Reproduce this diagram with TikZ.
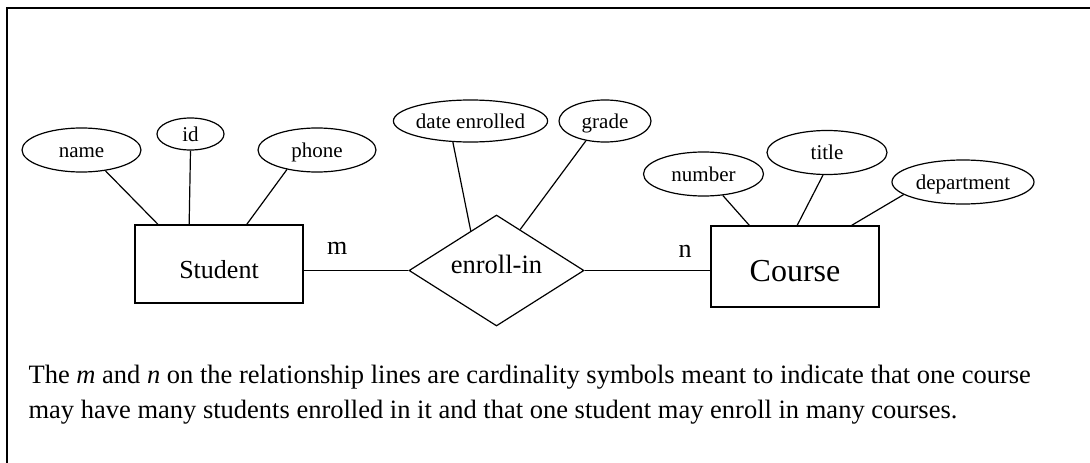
\documentclass[tikz,border=0pt]{standalone}
\usepackage{fontspec}
\setmainfont{Liberation Serif}
\usetikzlibrary{positioning,shapes.geometric}

\begin{document}
\begin{tikzpicture}[x=1pt,y=-1pt,line width=1.2pt]
\tikzstyle{attr}=[draw,ellipse,inner sep=0pt,text height=14.5pt,text depth=0pt,font=\fontsize{21}{24}\selectfont]
\tikzstyle{entity}=[draw,rectangle,inner sep=0pt,minimum width=168pt,text depth=0pt]
\tikzstyle{rel}=[draw,diamond,aspect=1.58,inner sep=0pt,minimum width=175pt,minimum height=111pt,font=\fontsize{26.5}{30}\selectfont]
\tikzstyle{card}=[inner sep=0pt,font=\fontsize{26}{30}\selectfont]
\tikzstyle{note}=[anchor=base west,inner sep=0pt,font=\fontsize{26.5}{32}\selectfont]

\useasboundingbox (0,0) rectangle (1090,463);
\draw[line width=1.8pt] (7,463) -- (7,8) -- (1090,8);

% entities and relationship
\node[entity,minimum height=78pt,text height=28pt,font=\fontsize{26}{30}\selectfont] (student) at (219,264) {Student};
\node[rel,text height=18pt,text depth=13pt] (enroll) at (496.5,270.5) {enroll-in};
\node[entity,minimum height=81pt,text height=30pt,font=\fontsize{32}{36}\selectfont] (course) at (795,266.5) {Course};

% attributes
\node[attr,minimum width=119pt,minimum height=44pt] (name) at (81.5,150) {name};
\node[attr,minimum width=67pt,minimum height=32pt] (id) at (190.5,134) {id};
\node[attr,minimum width=118pt,minimum height=44pt] (phone) at (317,150) {phone};
\node[attr,minimum width=151pt,minimum height=42pt] (date) at (470.5,121) {date enrolled};
\node[attr,minimum width=92pt,minimum height=42pt] (grade) at (605,121) {grade};
\node[attr,minimum width=120pt,minimum height=44pt] (number) at (703.5,174) {number};
\node[attr,minimum width=120pt,minimum height=44pt] (title) at (827,152.5) {title};
\node[attr,minimum width=142pt,minimum height=44pt] (dept) at (963,182) {department};

\draw (name.-41) -- (student.147);
\draw (id.south) -- (student.127);
\draw (phone.213) -- (student.55);
\draw (date.230) -- (enroll.123);
\draw (grade.226) -- (enroll.60);
\draw (number.-48) -- (course.138);
\draw (title.260) -- (course.87);
\draw (dept.192) -- (course.36);

\draw (student.east |- enroll.west) -- node[card,pos=.32,above=15pt] (m) {m} (enroll.west);
\draw (enroll.east) -- node[card,pos=.8,above=12pt] (n) {n} (enroll.east -| course.west);

\node[note] (note1) at (28,383) {The \textit{m} and \textit{n} on the relationship lines are cardinality symbols meant to indicate that one course};
\node[note] (note2) at (28,418) {may have many students enrolled in it and that one student may enroll in many courses.};
\end{tikzpicture}
\end{document}
